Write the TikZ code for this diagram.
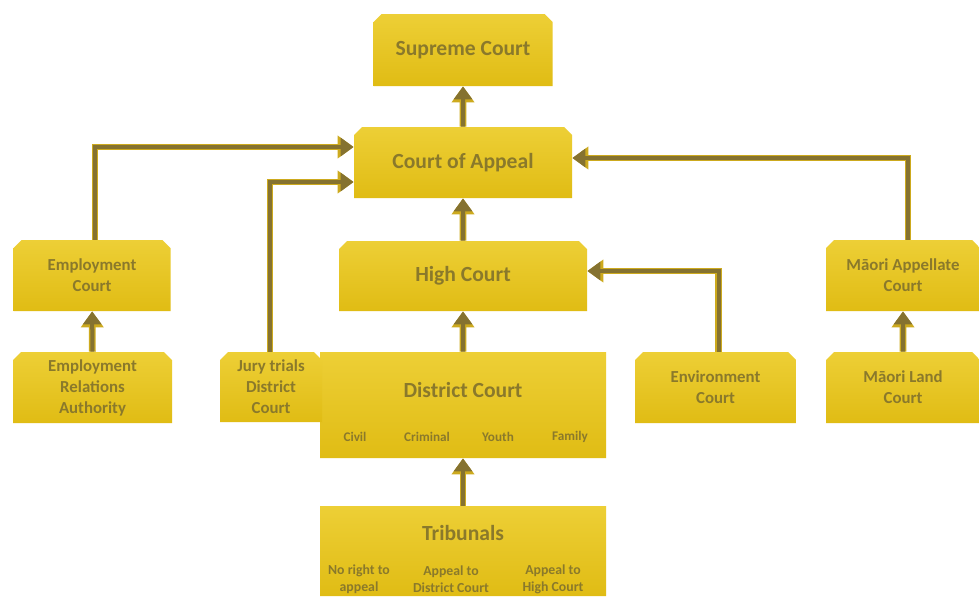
\documentclass[tikz,border=0pt]{standalone}
\usepackage{fontspec}
\setmainfont{Carlito}
\usepackage{tikz}
\usetikzlibrary{positioning, arrows.meta, shapes.misc, calc}

\definecolor{courtgold}{HTML}{E0BC14}
\definecolor{courtlight}{HTML}{EDCF36}
\definecolor{courttext}{HTML}{8A792B}
\definecolor{arrowbrown}{HTML}{857230}
\definecolor{arrowrim}{HTML}{CDAA1E}

\begin{document}
\begin{tikzpicture}[
            x=0.5pt, y=-0.5pt,
            every node/.style={text=courttext, font=\bfseries},
            court/.style={chamfered rectangle, chamfered rectangle corners={north west, north east},
                chamfered rectangle xsep=2pt, chamfered rectangle ysep=2pt,
                top color=courtlight, bottom color=courtgold, draw=none,
                align=center, inner sep=0pt},
            bigtext/.style={font=\bfseries\fontsize{10.8}{13}\selectfont},
            smalltext/.style={font=\bfseries\fontsize{8.4}{10.5}\selectfont},
            subtext/.style={font=\bfseries\fontsize{6.6}{8}\selectfont},
            tribtext/.style={font=\bfseries\fontsize{6.9}{8.5}\selectfont, align=center},
            link/.style={draw=arrowbrown, line width=2pt, -{Triangle[width=9pt,length=6.5pt]},
                preaction={draw=arrowrim, line width=3.4pt, -{Triangle[width=11pt,length=8pt]}}}
        ]
    \useasboundingbox[fill=white] (0,0) rectangle (979,596);

    % upper courts
    \node[court, bigtext, minimum width=89.5pt, minimum height=36pt] (Supreme) at (463,50) {Supreme Court};
    \node[court, bigtext, minimum width=109pt, minimum height=35.5pt] (Appeal) at (463,162.5) {Court of Appeal};
    \node[court, bigtext, minimum width=124pt, minimum height=35pt] (High) at (463,276) {High Court};

    % side courts
    \node[court, smalltext, minimum width=78.5pt, minimum height=35.5pt] (Employment) at (92,275.5) {Employment\\Court};
    \node[court, smalltext, minimum width=77pt, minimum height=35.5pt] (MaoriAppellate) at (903,275.5) {Māori Appellate\\Court};
    \node[court, smalltext, minimum width=79.5pt, minimum height=35.5pt] (Authority) at (92.5,387.5) {Employment\\Relations\\Authority};
    \node[court, smalltext, minimum width=80.5pt, minimum height=35.5pt] (Environment) at (715.5,387.5) {Environment\\Court};
    \node[court, smalltext, minimum width=77pt, minimum height=35.5pt] (MaoriLand) at (903,387.5) {Māori Land\\Court};

    % district court
    \node[court, minimum width=143pt, minimum height=53pt] (District) at (463,405) {};
    \node[bigtext] (DistrictTitle) at (463,390) {District Court};
    \node[subtext] (Civil) at (355,437) {Civil};
    \node[subtext] (Criminal) at (427,437) {Criminal};
    \node[subtext] (Youth) at (498,437) {Youth};
    \node[subtext] (Family) at (570,437) {Family};
    \node[court, smalltext, minimum width=51pt, minimum height=35pt] (Jury) at (271,387) {Jury trials\\District\\Court};

    % tribunals
    \node[court, minimum width=143pt, minimum height=45pt] (Tribunals) at (463,551) {};
    \node[bigtext] (TribunalsTitle) at (463,533) {Tribunals};
    \node[tribtext] (NoRight) at (359,579) {No right to\\appeal};
    \node[tribtext] (ToDistrict) at (451,579) {Appeal to\\District Court};
    \node[tribtext] (ToHigh) at (553,579) {Appeal to\\High Court};

    % Add arrows for appeals
    \draw[link] (Appeal) -- (Supreme);
    \draw[link] (High) -- (Appeal);
    \draw[link] (District) -- (High);
    \draw[link] (Tribunals) -- (District);
    \draw[link] (Authority) -- (Employment);
    \draw[link] (MaoriLand) -- (MaoriAppellate);
    \draw[link] ([xshift=1.5pt]Employment.north) |- ($(Appeal.west)+(0,-15.5)$);
    \draw[link] ([xshift=-0.5pt]Jury.north) |- ($(Appeal.west)+(0,19.5)$);
    \draw[link] ([xshift=1.5pt]Environment.north) |- ($(High.east)+(0,-5)$);
    \draw[link] ([xshift=2.5pt]MaoriAppellate.north) |- ($(Appeal.east)+(0,-4.5)$);

\end{tikzpicture}
\end{document}
